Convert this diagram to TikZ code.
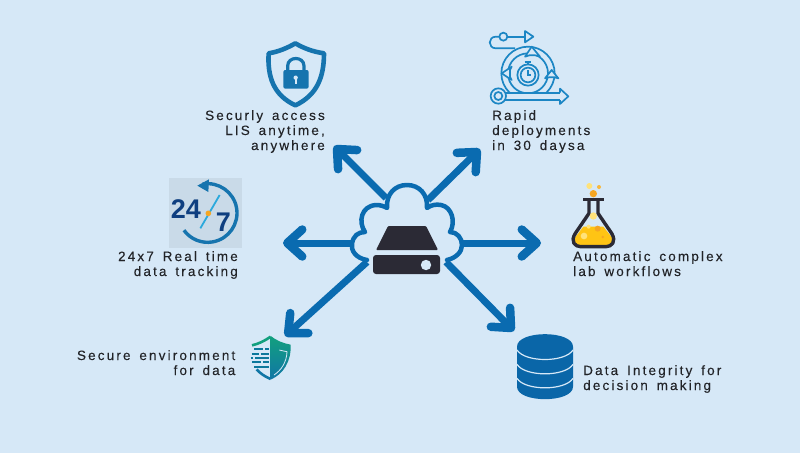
\documentclass[tikz,border=0pt]{standalone}
\usepackage{fontspec}
\setmainfont{Liberation Sans}[LetterSpace=16,WordSpace=1.5,FakeBold=0.12]
\newfontfamily\digitfont{Liberation Sans}
\usetikzlibrary{arrows.meta}
\definecolor{bgc}{HTML}{D6E8F7}
\definecolor{arrowc}{HTML}{0A6BB0}
\definecolor{srv}{HTML}{2B2A35}
\definecolor{shieldc}{HTML}{1674AE}
\definecolor{rapidc}{HTML}{1C86C4}
\definecolor{navyc}{HTML}{0F3F80}
\definecolor{cyanc}{HTML}{2BA9DC}
\definecolor{dbc}{HTML}{0A66A8}
\definecolor{txt}{HTML}{222428}
\definecolor{liq}{HTML}{FFC414}
\definecolor{orng}{HTML}{F5A623}
\definecolor{pale}{HTML}{FFE27A}
\definecolor{tealc}{HTML}{12A07E}
\definecolor{tealb}{HTML}{1076A6}
\tikzset{
  spoke/.style={draw=arrowc,line width=7pt,-{Straight Barb[round,length=15pt,width=27pt,line width=8.5pt]}},
  lbl/.style={font=\fontsize{13.5}{15}\selectfont,text=txt,inner sep=0pt},
  rr/.style={lbl,anchor=base east,align=right},
  ll/.style={lbl,anchor=base west,align=left},
  rap/.style={draw=rapidc,line width=1.7pt},
  zoomed/.style={shift={(#1)},scale=1/3},
  digit/.style={inner sep=0pt,text=navyc,font=\fontsize{27}{27}\selectfont\digitfont\bfseries}
}
\begin{document}
\begin{tikzpicture}[x=1pt,y=-1pt]
\useasboundingbox (0,0) rectangle (800,453);
\fill[bgc] (0,0) rectangle (800,453);
% connector ends
\coordinate (s1) at (386,198); \coordinate (t1) at (334,146);
\coordinate (s2) at (428,200); \coordinate (t2) at (480,149);
\coordinate (s3) at (352,243); \coordinate (t3) at (283,243);
\coordinate (s4) at (462,243); \coordinate (t4) at (541,243);
\coordinate (s5) at (367,262); \coordinate (t5) at (285,336);
\coordinate (s6) at (446,262); \coordinate (t6) at (514,331);
\draw[spoke] (s1) -- (t1);
\draw[spoke] (s2) -- (t2);
\draw[spoke] (s3) -- (t3);
\draw[spoke] (s4) -- (t4);
\draw[spoke] (s5) -- (t5);
\draw[spoke] (s6) -- (t6);
% cloud
\draw[draw=arrowc,line width=4.5pt,fill=bgc,line join=round,line cap=round]
 (367,260) .. controls (355,258) and (351,250) .. (352,244)
 .. controls (353,236) and (358,232) .. (365,232)
 .. controls (358,222) and (361,206) .. (376,205)
 .. controls (380,205) and (384,206) .. (387,208)
 .. controls (386,194) and (395,185) .. (407,185)
 .. controls (419,185) and (428,194) .. (427,208)
 .. controls (431,205) and (436,204) .. (441,205)
 .. controls (452,207) and (456,222) .. (450,232)
 .. controls (457,232) and (462,238) .. (462,245)
 .. controls (462,252) and (456,258) .. (447,260);
% server
\fill[srv,rounded corners=1pt] (388,226) -- (426,226) -- (438,250) -- (376,250) -- cycle;
\fill[srv,rounded corners=3pt] (373,255) rectangle (440,274);
\fill[bgc] (426,265) circle (5.2);
% lock shield
\begin{scope}[zoomed={190,20}]
\draw[shieldc,line width=4.6pt,line join=round]
 (316,70) .. controls (290,85) and (265,95) .. (236,100)
 .. controls (232,170) and (250,225) .. (316,256)
 .. controls (382,225) and (402,170) .. (402,100)
 .. controls (368,95) and (342,85) .. (316,70) -- cycle;
\fill[shieldc,rounded corners=2pt] (280,150) rectangle (356,206);
\draw[shieldc,line width=3.2pt] (293,152) -- (293,138) .. controls (293,108) and (342,108) .. (342,138) -- (342,152);
\fill[bgc] (317,173) circle (6.5);
\fill[bgc] (314,173) rectangle (320,192);
\end{scope}
% rapid icon
\begin{scope}[zoomed={470,20}]
\draw[rap] (100,50) circle (12);
\draw[rap] (112,50) -- (165,50);
\draw[rap,line join=round] (165,33) -- (190,50) -- (165,67) -- cycle;
\draw[rap] (88,50) -- (78,50) .. controls (53,50) and (53,85) .. (78,85) -- (135,85);
\draw[rap] (174,160) circle (80);
\draw[rap] (174,160) circle (60);
% arrowheads on the ring
\draw[rap,fill=bgc,line join=round] (165,110) -- (185,80) -- (210,110) -- (196,106) -- (178,106) -- cycle;
\draw[rap,fill=bgc,line join=round] (125,140) -- (95,160) -- (125,180) -- (120,170) -- (120,150) -- cycle;
\draw[rap,fill=bgc,line join=round] (225,175) -- (245,150) -- (265,175) -- (254,172) -- (236,172) -- cycle;
\draw[rap] (174,165) circle (32);
\draw[rap] (174,165) circle (22);
\draw[rap] (174,150) -- (174,165) -- (184,165);
\draw[rap] (164,127) -- (184,127);
\draw[rap] (174,127) -- (174,133);
% lower arrow
\fill[bgc] (106,219) rectangle (270,239);
\draw[rap] (85,228) circle (23);
\draw[rap] (85,228) circle (12);
\draw[rap] (106,218) -- (270,218);
\draw[rap] (106,240) -- (270,240);
\draw[rap,line join=round] (270,218) -- (270,206) -- (295,229) -- (270,252) -- (270,240);
\end{scope}
% 24/7
\fill[black!6!bgc] (169,178) rectangle (242,248);
\begin{scope}[zoomed={110,170}]
\draw[shieldc,line width=3.4pt] (293,129) ++(-100:88) arc (-100:144:88);
\fill[shieldc] (297,28) -- (262,47) -- (295,66) -- cycle;
\draw[cyanc,line width=1.8pt] (329,75) -- (271,175);
\fill[orng] (295,130) circle (8.5);
\node[digit] (n24) at (228,117) {24};
\node[digit] (n7) at (340,156) {7};
\end{scope}
% flask
\begin{scope}[zoomed={560,175}]
\fill[liq] (70,155) -- (130,155) -- (158,190) .. controls (160,205) and (150,212) .. (140,212) -- (60,212) .. controls (48,212) and (40,205) .. (43,190) -- cycle;
\draw[srv,line width=3.4pt,line join=round] (87,78) -- (87,115) -- (46,175) .. controls (30,200) and (45,215) .. (62,215) -- (138,215) .. controls (155,215) and (170,200) .. (155,175) -- (114,115) -- (114,78);
\draw[srv,line width=3.6pt] (69,74) -- (132,74);
\fill[orng] (100,56) circle (11);
\fill[pale] (88,33) circle (9);
\fill[orng!70!pale] (117,36) circle (6);
\fill[pale] (100,123) circle (11);
\fill[orng] (113,161) circle (9);
\fill[pale] (72,183) circle (10);
\fill[orng] (128,186) circle (4);
\fill[pale] (86,155) circle (6);
\end{scope}
% teal shield
\begin{scope}[zoomed={70,320}]
\shade[top color=tealc,bottom color=tealb]
 (602,48) .. controls (620,62) and (640,70) .. (662,74)
 .. controls (664,125) and (640,162) .. (602,179) -- cycle;
\draw[tealc,line width=2.6pt] (602,50) .. controls (585,62) and (565,72) .. (546,76);
\draw[tealb,line width=2.6pt] (560,148) .. controls (570,160) and (585,170) .. (602,177);
\draw[bgc,line width=.8pt] (628,90) .. controls (636,92) and (644,94) .. (651,95) .. controls (650,125) and (635,150) .. (612,165);
\foreach \xa/\xb/\xc/\xd/\yy in {552/578/586/598/88,545/566/572/598/101,542/548/556/598/114,547/572/580/598/127,552/590/592/598/141}{
  \draw[tealb!75!teal,line width=1.8pt] (\xa,\yy) -- (\xb,\yy) (\xc,\yy) -- (\xd,\yy);}
\end{scope}
% database
\begin{scope}[zoomed={505,325}]
\fill[dbc] (36,65) .. controls (36,15) and (204,15) .. (204,65) -- (204,185) .. controls (204,235) and (36,235) .. (36,185) -- cycle;
\foreach \yy in {75,118,160}{
\draw[bgc,line width=1.2pt] (36,\yy) .. controls (60,{\yy+38}) and (180,{\yy+38}) .. (204,\yy);}
\end{scope}
% labels
\node[rr] (a) at (325,150) {Securly access\\LIS anytime,\\anywhere};
\node[ll] (b) at (492,150) {Rapid\\deployments\\in 30 daysa};
\node[rr] (c) at (238,276) {24x7 Real time\\data tracking};
\node[ll] (d) at (573,276) {Automatic complex\\lab workflows};
\node[rr] (e) at (235.5,375) {Secure environment\\for data};
\node[ll] (f) at (583,390) {Data Integrity for\\decision making};
\end{tikzpicture}
\end{document}
